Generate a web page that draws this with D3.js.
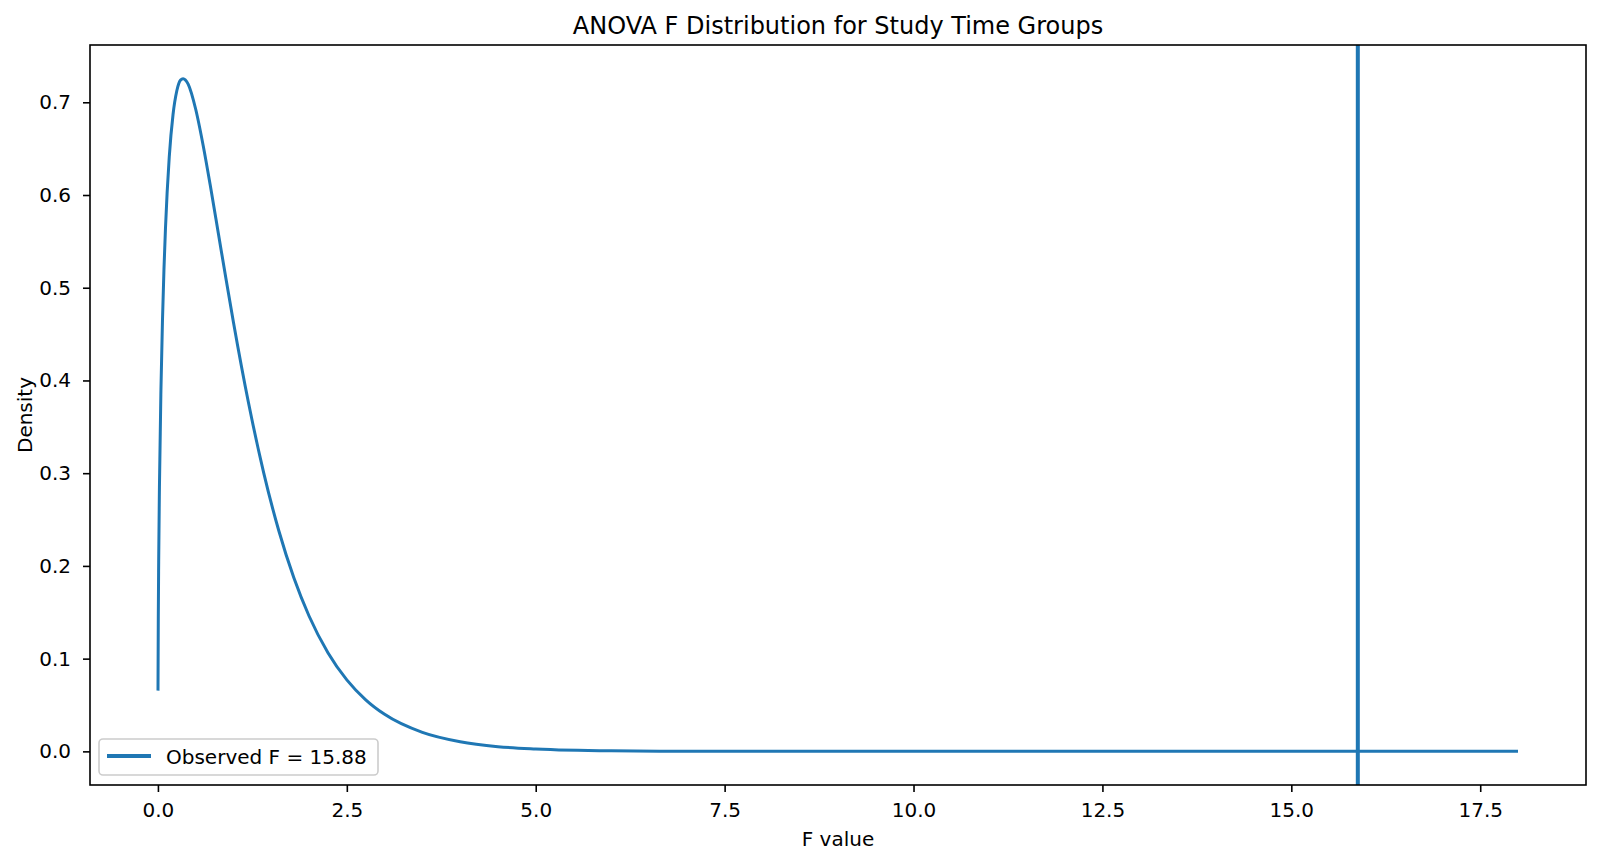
<!DOCTYPE html>
<html>
<head>
<meta charset="utf-8">
<script src="https://cdn.jsdelivr.net/npm/d3@7"></script>
<style>
  body { margin: 0; background: #fff; }
  svg { font-family: "DejaVu Sans", sans-serif; }
</style>
</head>
<body>
<svg id="chart"></svg>
<script>
// F values and density
const fValues = [0.001, 0.005, 0.01, 0.02, 0.04, 0.06, 0.08, 0.1, 0.15, 0.2, 0.25, 0.3, 0.333,
    0.4, 0.5, 0.6, 0.7, 0.8, 0.9, 1.0, 1.2, 1.4, 1.6, 1.8, 2.0, 2.25, 2.5, 2.75, 3.0,
    3.5, 4.0, 4.5, 5.0, 6.0, 7.0, 8.0, 10.0, 12.0, 14.0, 16.0, 18.0];
const density = [0.0655, 0.1455, 0.2042, 0.2845, 0.3905, 0.4641, 0.5201, 0.5643, 0.6412, 0.6868, 0.7124, 0.7240, 0.7255,
    0.7196, 0.6925, 0.6529, 0.6070, 0.5585, 0.5099, 0.4626, 0.3754, 0.3004, 0.2379, 0.1869, 0.1460, 0.1064, 0.0771, 0.0556, 0.0399,
    0.0204, 0.0103, 0.0051, 0.0026, 0.0006, 0.00015, 0.00004, 0.0, 0.0, 0.0, 0.0, 0.0];
const observedF = 15.88;
const xTicks = [0, 2.5, 5, 7.5, 10, 12.5, 15, 17.5];
const yTicks = [0, 0.1, 0.2, 0.3, 0.4, 0.5, 0.6, 0.7];

const width = 1600, height = 864;
const margin = { top: 45, right: 14, bottom: 79, left: 90 };
const blue = "#1f77b4";

const svg = d3.select("#chart")
    .attr("width", width)
    .attr("height", height);

// matplotlib-style 5% padding
const xMin = d3.min(fValues), xMax = d3.max(fValues);
const yMin = d3.min(density), yMax = d3.max(density);
const x = d3.scaleLinear()
    .domain([xMin - 0.05 * (xMax - xMin), xMax + 0.05 * (xMax - xMin)])
    .range([margin.left, width - margin.right]);
const y = d3.scaleLinear()
    .domain([yMin - 0.05 * (yMax - yMin), yMax + 0.05 * (yMax - yMin)])
    .range([height - margin.bottom, margin.top]);

const pts = fValues.map((f, i) => [f, density[i]]);

svg.append("path")
    .datum(pts)
    .attr("fill", "none")
    .attr("stroke", blue)
    .attr("stroke-width", 3)
    .attr("stroke-linejoin", "round")
    .attr("d", d3.line().curve(d3.curveMonotoneX).x(d => x(d[0])).y(d => y(d[1])));

svg.append("line")
    .attr("x1", x(observedF)).attr("x2", x(observedF))
    .attr("y1", margin.top).attr("y2", height - margin.bottom)
    .attr("stroke", blue)
    .attr("stroke-width", 4);

// axes
const xAxis = svg.append("g")
    .attr("transform", `translate(0,${height - margin.bottom})`)
    .call(d3.axisBottom(x).tickValues(xTicks).tickFormat(d3.format(".1f")).tickSize(7).tickPadding(11));
const yAxis = svg.append("g")
    .attr("transform", `translate(${margin.left},0)`)
    .call(d3.axisLeft(y).tickValues(yTicks).tickFormat(d3.format(".1f")).tickSize(7).tickPadding(12));
for (const g of [xAxis, yAxis]) {
    g.select(".domain").remove();
    g.selectAll("line").attr("stroke", "#000").attr("stroke-width", 1.6);
    g.selectAll("text").attr("font-size", 20).attr("fill", "#000").attr("font-family", "DejaVu Sans");
}

svg.append("rect")
    .attr("x", margin.left).attr("y", margin.top)
    .attr("width", width - margin.left - margin.right)
    .attr("height", height - margin.top - margin.bottom)
    .attr("fill", "none")
    .attr("stroke", "#000")
    .attr("stroke-width", 1.6);

const cx = (margin.left + width - margin.right) / 2;
svg.append("text")
    .attr("x", cx).attr("y", 34)
    .attr("text-anchor", "middle")
    .attr("font-size", 24)
    .text("ANOVA F Distribution for Study Time Groups");
svg.append("text")
    .attr("x", cx).attr("y", 846)
    .attr("text-anchor", "middle")
    .attr("font-size", 20)
    .text("F value");
svg.append("text")
    .attr("transform", `translate(32,${(margin.top + height - margin.bottom) / 2}) rotate(-90)`)
    .attr("text-anchor", "middle")
    .attr("font-size", 20)
    .text("Density");

// legend
const legend = svg.append("g");
legend.append("rect")
    .attr("x", 99).attr("y", 739)
    .attr("width", 279).attr("height", 36)
    .attr("rx", 4)
    .attr("fill", "#fff").attr("fill-opacity", 0.8)
    .attr("stroke", "#ccc").attr("stroke-width", 1.6);
legend.append("line")
    .attr("x1", 107).attr("x2", 151)
    .attr("y1", 756).attr("y2", 756)
    .attr("stroke", blue).attr("stroke-width", 4);
legend.append("text")
    .attr("x", 166).attr("y", 764)
    .attr("font-size", 20)
    .text(`Observed F = ${observedF.toFixed(2)}`);
</script>
</body>
</html>
